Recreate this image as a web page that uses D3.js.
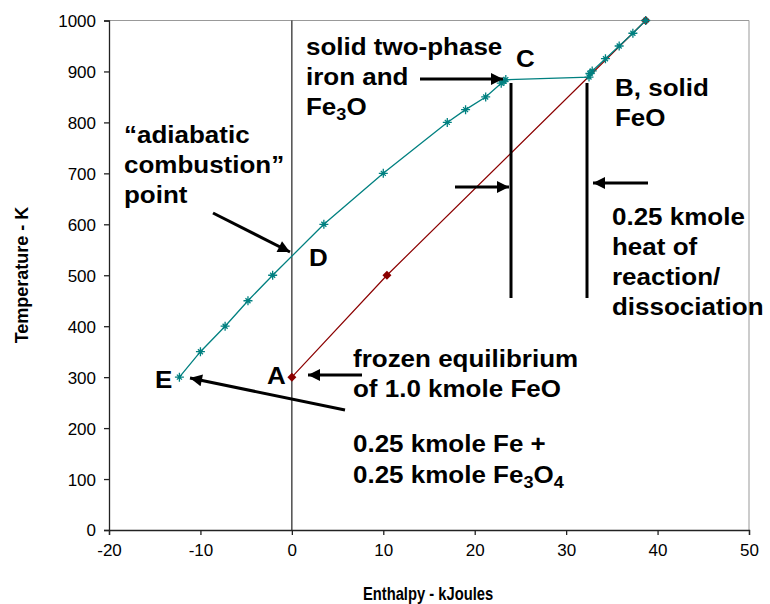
<!DOCTYPE html>
<html>
<head>
<meta charset="utf-8">
<script src="https://cdn.jsdelivr.net/npm/d3@7"></script>
<style>
html,body{margin:0;padding:0;background:#fff;}
svg{display:block;}
text{font-family:"Liberation Sans",Arial,Helvetica,sans-serif;}
</style>
</head>
<body>
<svg id="chart" width="770" height="604"></svg>
<script>
// ---- data ----
const xTicks = [-20, -10, 0, 10, 20, 30, 40, 50];
const yTicks = [0, 100, 200, 300, 400, 500, 600, 700, 800, 900, 1000];
// products path (Fe + Fe3O4 -> FeO) : enthalpy (kJ) vs temperature (K)
const productH = [-12.3, -10, -7.3, -4.8, -2.1, 3.5, 10, 17, 19, 21.2, 22.9, 23.2, 23.4, 32.5, 32.6, 32.85, 34.3, 35.8, 37.3, 38.7];
const productT = [300, 350, 400, 450, 500, 600, 700, 800, 825, 850, 877, 881, 884, 889, 896, 901, 925, 950, 975, 1000];
// frozen FeO path
const feoH = [0, 10.4, 38.7];
const feoT = [300, 500, 1000];

const svg = d3.select("#chart");
const L = 109, R = 749, T = 20.5, B = 530;
const x = d3.scaleLinear().domain([-20, 50]).range([L, R]);
const y = d3.scaleLinear().domain([0, 1000]).range([B, T]);

// plot frame (top/right grey)
svg.append("line").attr("x1", L).attr("x2", R).attr("y1", T).attr("y2", T).attr("stroke", "#999").attr("stroke-width", 1);
svg.append("line").attr("x1", R).attr("x2", R).attr("y1", T).attr("y2", B).attr("stroke", "#999").attr("stroke-width", 1);

// axes
const yAxis = svg.append("g").attr("transform", `translate(${L},0)`)
  .call(d3.axisLeft(y).tickValues(yTicks).tickSize(5).tickPadding(8).tickFormat(d => String(d)));
const xAxis = svg.append("g").attr("transform", `translate(0,${B})`)
  .call(d3.axisBottom(x).tickValues(xTicks).tickSize(5).tickPadding(9).tickFormat(d => String(d)));
[yAxis, xAxis].forEach(g => {
  g.selectAll("path.domain").attr("stroke", "#222").attr("stroke-width", 1.3);
  g.selectAll(".tick line").attr("stroke", "#222").attr("stroke-width", 1.3);
  g.selectAll(".tick text").attr("font-size", 17).attr("fill", "#000")
    .style("font-family", "'Liberation Sans',Arial,sans-serif");
});
yAxis.selectAll(".tick text").attr("dy", "0.35em");

// zero enthalpy vertical line
svg.append("line").attr("x1", x(0)).attr("x2", x(0)).attr("y1", T).attr("y2", B)
  .attr("stroke", "#222").attr("stroke-width", 1.2);

// axis titles
svg.append("text").attr("transform", "translate(428,600) scale(0.82,1)").attr("text-anchor", "middle")
  .attr("font-size", 18).attr("font-weight", "bold").text("Enthalpy - kJoules");
svg.append("text").attr("transform", "translate(28,275) rotate(-90)").attr("text-anchor", "middle")
  .attr("font-size", 18).attr("font-weight", "bold").text("Temperature - K");

// series
const line = d3.line().x(d => x(d[0])).y(d => y(d[1]));
const feo = feoH.map((h, i) => [h, feoT[i]]);
const prod = productH.map((h, i) => [h, productT[i]]);

svg.append("path").datum(feo).attr("d", line).attr("fill", "none").attr("stroke", "#8b0000").attr("stroke-width", 1.2);
svg.append("g").selectAll("path").data(feo).join("path")
  .attr("transform", d => `translate(${x(d[0])},${y(d[1])})`)
  .attr("d", "M0,-4.5L4.5,0L0,4.5L-4.5,0Z").attr("fill", "#8b0000");

svg.append("path").datum(prod).attr("d", line).attr("fill", "none").attr("stroke", "#008080").attr("stroke-width", 1.3);
svg.append("g").selectAll("path").data(prod).join("path")
  .attr("transform", d => `translate(${x(d[0])},${y(d[1])})`)
  .attr("d", "M-4.5,0H4.5M0,-4.5V4.5M-2.5,-2.5L2.5,2.5M-2.5,2.5L2.5,-2.5")
  .attr("stroke", "#008080").attr("stroke-width", 1.3).attr("fill", "none");

// arrow marker
const defs = svg.append("defs");
defs.append("marker").attr("id", "ah").attr("viewBox", "0 0 10 10").attr("refX", 10).attr("refY", 5)
  .attr("markerUnits", "userSpaceOnUse").attr("markerWidth", 16).attr("markerHeight", 12)
  .attr("orient", "auto")
  .append("path").attr("d", "M0,0L10,5L0,10Z").attr("fill", "#000");

const arrows = [
  [420, 79, 503, 79],
  [213, 213, 290, 252],
  [362, 375, 308, 375],
  [345, 410, 190, 378],
  [455, 187, 509, 187],
  [648, 183, 593, 183]
];
svg.append("g").selectAll("line").data(arrows).join("line")
  .attr("x1", d => d[0]).attr("y1", d => d[1]).attr("x2", d => d[2]).attr("y2", d => d[3])
  .attr("stroke", "#000").attr("stroke-width", 3).attr("marker-end", "url(#ah)");

// vertical bars
[[511, 83, 298], [587, 83, 298]].forEach(v => {
  svg.append("line").attr("x1", v[0]).attr("x2", v[0]).attr("y1", v[1]).attr("y2", v[2])
    .attr("stroke", "#000").attr("stroke-width", 3);
});

// annotations
const SX = 1.13;
const ann = svg.append("g").attr("font-weight", "bold").attr("font-size", 23).attr("fill", "#000");
function label(x0, y0, lines) {
  const t = ann.append("text").attr("transform", `translate(${x0},${y0}) scale(${SX},1)`);
  lines.forEach((ln, i) => {
    t.append("tspan").attr("x", 0).attr("dy", i === 0 ? 0 : 30).text(ln);
  });
  return t;
}
function subLabel(x0, y0, parts) {
  const t = ann.append("text").attr("transform", `translate(${x0},${y0}) scale(${SX},1)`);
  let shift = 0;
  parts.forEach(p => {
    if (typeof p === "string") {
      t.append("tspan").attr("dy", -shift).text(p); shift = 0;
    } else {
      t.append("tspan").attr("dy", 5 - shift).attr("font-size", 16).text(p.sub); shift = 5;
    }
  });
}

label(306, 55, ["solid two-phase", "iron and"]);
subLabel(306, 115, ["Fe", {sub: "3"}, "O"]);
label(516, 67, ["C"]);
label(615, 96, ["B, solid", "FeO"]);
label(124, 143, ["\u201Cadiabatic", "combustion\u201D", "point"]);
label(309, 266, ["D"]);
label(612, 225, ["0.25 kmole", "heat of", "reaction/", "dissociation"]);
label(155, 388, ["E"]);
label(267, 384, ["A"]);
label(353, 367, ["frozen equilibrium", "of 1.0 kmole FeO"]);
label(353, 452, ["0.25 kmole Fe +"]);
subLabel(353, 483, ["0.25 kmole Fe", {sub: "3"}, "O", {sub: "4"}]);
</script>
</body>
</html>
